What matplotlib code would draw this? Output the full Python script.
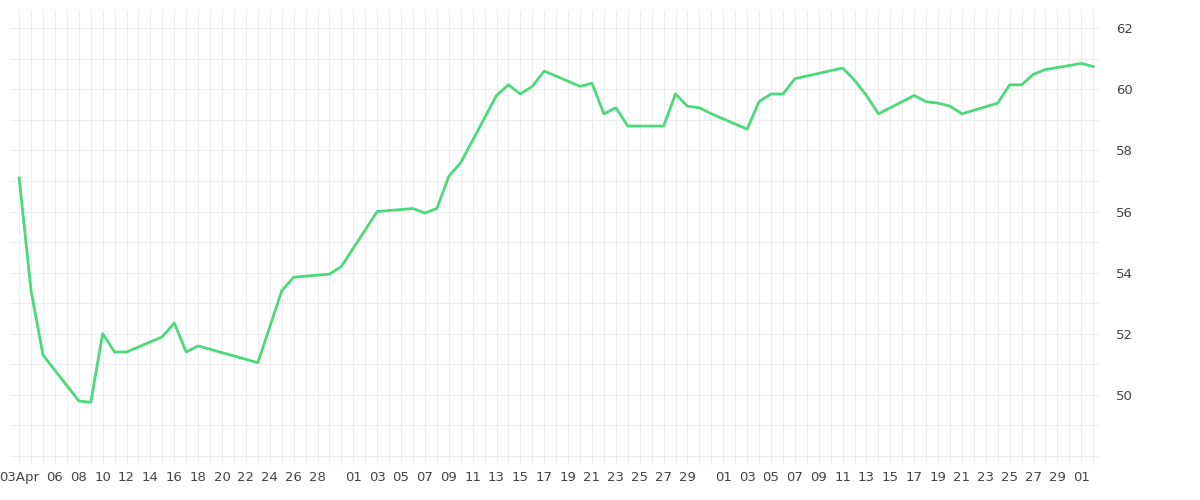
import matplotlib
matplotlib.use("Agg")
import matplotlib.pyplot as plt
import matplotlib.dates as mdates
import numpy as np
import datetime as dt

start = dt.datetime(2024, 4, 3)
day_offsets = [0,1,2,5,6,7,8,9,12,13,14,15,20,22,23,26,27,30,33,34,35,36,37,40,41,42,43,44,47,48,49,50,51,54,55,56,57,58,61,62,63,64,65,69,70,71,72,75,76,77,78,79,82,83,84,85,86,89,90]
values = [57.1,53.4,51.3,49.8,49.75,52.0,51.4,51.4,51.9,52.35,51.4,51.6,51.05,53.4,53.85,53.95,54.2,56.0,56.1,55.95,56.1,57.15,57.6,59.8,60.15,59.85,60.1,60.6,60.1,60.2,59.2,59.4,58.8,58.8,59.85,59.45,59.4,59.2,58.7,59.6,59.85,59.85,60.35,60.7,60.3,59.8,59.2,59.8,59.6,59.55,59.45,59.2,59.55,60.15,60.15,60.5,60.65,60.85,60.75]
tick_dates = ([dt.datetime(2024,4,3)] + [dt.datetime(2024,4,d) for d in range(6,29,2)]
              + [dt.datetime(2024,5,d) for d in range(1,30,2)]
              + [dt.datetime(2024,6,d) for d in range(1,30,2)] + [dt.datetime(2024,7,1)])
tick_labels = ["03Apr"] + [f"{d.day:02d}" for d in tick_dates[1:]]

dates = [start + dt.timedelta(days=o) for o in day_offsets]

fig = plt.figure(figsize=(12, 5), dpi=100)
ax = fig.add_axes([0.008, 0.07, 0.908, 0.91])
ax.plot(dates, values, color="#4cd97b", lw=2)
ax.set_ylim(47.7, 62.6)
ax.set_xlim(start - dt.timedelta(days=0.8), start + dt.timedelta(days=90.5))
ax.set_xticks(tick_dates)
ax.set_xticklabels(tick_labels)
ax.xaxis.set_minor_locator(mdates.DayLocator())
ax.set_yticks([50, 52, 54, 56, 58, 60, 62])
ax.set_yticks(np.arange(48, 63, 1), minor=True)
ax.yaxis.tick_right()
ax.grid(True, which="both", color="#eeeeee", lw=0.8)
ax.set_axisbelow(True)
for s in ax.spines.values():
    s.set_visible(False)
ax.tick_params(which="both", length=0, labelsize=9.5, colors="#444444")
ax.tick_params(axis="x", pad=4)
ax.tick_params(axis="y", pad=12)
fig.savefig("out.png")
